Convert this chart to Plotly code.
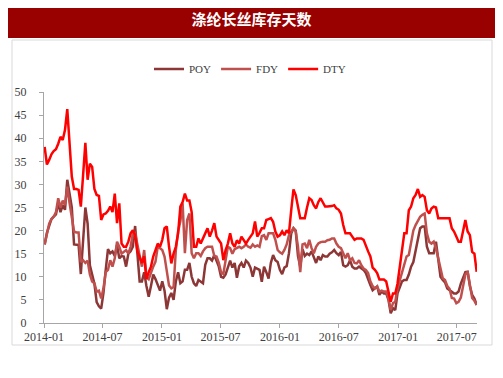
import pandas as pd
import plotly.graph_objects as go

# weekly observation dates
dates = pd.date_range("2014-01-03", periods=192, freq="7D")

poy = [17.0, 19.5, 21.0, 22.5, 23.0, 23.5, 26.0, 24.0, 25.5, 24.5,
       31.0, 28.0, 25.0, 17.0, 16.9, 16.9, 10.6, 17.0, 25.0, 21.5,
       12.5, 10.5, 8.5, 4.5, 3.6, 3.1, 6.5, 11.5, 16.0, 15.1,
       15.5, 14.5, 16.9, 14.0, 14.5, 14.4, 12.2, 15.0, 15.5, 16.5,
       21.0, 15.0, 9.0, 9.0, 11.0, 8.0, 5.7, 8.0, 10.5, 9.5,
       8.0, 7.0, 9.0, 7.0, 3.0, 5.5, 6.5, 5.0, 9.0, 11.0,
       8.6, 9.0, 11.5, 11.5, 13.0, 10.0, 8.6, 8.0, 9.3, 9.0,
       8.6, 12.6, 14.0, 14.0, 13.5, 14.7, 13.5, 12.2, 10.0, 9.8,
       10.5, 12.0, 13.5, 12.0, 13.0, 9.8, 12.3, 13.0, 12.0, 13.5,
       13.0, 12.0, 10.0, 12.0, 11.8, 11.5, 8.9, 12.2, 11.0, 9.6,
       13.0, 14.7, 13.6, 13.2, 11.5, 10.6, 12.0, 12.3, 15.1, 19.4,
       20.5, 20.0, 14.5, 12.2, 16.0, 14.5, 15.0, 14.7, 15.5, 14.0,
       13.0, 14.4, 13.6, 14.7, 14.4, 14.4, 15.0, 15.3, 15.8, 15.1,
       14.7, 15.4, 12.5, 12.2, 12.5, 13.6, 12.2, 11.8, 11.8, 12.2,
       11.8, 11.5, 10.8, 9.3, 8.2, 7.1, 7.5, 7.9, 6.1, 6.8,
       6.4, 6.4, 5.0, 2.1, 3.2, 2.8, 6.4, 7.9, 9.0, 9.3,
       9.3, 10.5, 12.2, 13.2, 15.5, 18.0, 20.5, 20.9, 20.9, 16.5,
       15.1, 15.1, 15.1, 17.6, 13.6, 10.0, 9.3, 8.8, 7.5, 7.1,
       6.8, 6.4, 6.4, 6.8, 8.5, 9.8, 11.0, 11.1, 8.0, 6.1,
       5.3, 3.9]

fdy = [17.0, 19.5, 21.5, 22.5, 23.0, 24.0, 27.0, 25.0, 26.5, 25.5,
       29.5, 26.0, 23.0, 19.8, 19.6, 19.6, 13.2, 13.6, 13.0, 13.5,
       10.5, 9.0, 8.6, 6.8, 7.0, 5.3, 7.5, 11.0, 11.5, 13.6,
       12.2, 14.0, 17.6, 16.5, 15.0, 15.5, 15.8, 15.0, 16.5, 19.4,
       19.5, 17.0, 14.4, 12.2, 15.8, 10.0, 9.5, 11.0, 12.2, 13.3,
       16.5, 16.2, 15.8, 14.4, 11.0, 8.1, 7.5, 7.8, 15.8, 19.8,
       22.0, 25.9, 15.1, 22.3, 23.7, 15.1, 14.0, 15.1, 15.1, 14.5,
       15.5, 16.2, 16.5, 16.5, 16.5, 14.5, 14.4, 13.0, 11.0, 10.6,
       13.3, 16.5, 16.2, 15.0, 16.0, 16.2, 16.5, 16.2, 16.5, 17.0,
       16.5, 16.3, 17.0, 16.5, 16.8, 16.5, 18.8, 19.0, 18.0, 19.4,
       19.4, 19.4, 18.0, 15.8, 15.3, 15.0, 15.8, 17.0, 19.0, 19.8,
       20.5, 19.8, 16.5, 11.0, 17.0, 17.2, 16.2, 18.0, 16.2, 15.1,
       16.5, 17.2, 17.5, 17.6, 17.6, 17.9, 18.0, 18.3, 18.3, 17.2,
       16.5, 16.2, 15.2, 14.0, 15.1, 13.6, 14.0, 13.0, 12.9, 13.6,
       12.5, 11.8, 11.5, 10.8, 9.0, 8.0, 7.5, 7.9, 6.8, 7.0,
       6.8, 6.8, 5.3, 2.8, 4.3, 4.6, 7.5, 9.3, 11.1, 12.5,
       14.4, 14.7, 17.2, 20.0, 21.2, 22.3, 23.0, 23.4, 23.7, 19.4,
       17.6, 17.2, 17.6, 16.2, 14.0, 12.2, 9.7, 9.3, 8.0, 7.4,
       5.4, 5.3, 4.3, 4.6, 5.5, 8.0, 10.5, 11.1, 8.2, 5.4,
       4.8, 3.9]

dty = [38.1, 34.3, 35.3, 36.5, 37.2, 37.6, 38.8, 40.3, 39.6, 41.8,
       46.3, 38.5, 31.7, 29.0, 29.0, 28.8, 25.2, 32.0, 39.0, 31.0,
       34.5, 33.8, 29.0, 27.7, 27.5, 22.3, 23.5, 23.7, 24.3, 25.2,
       24.0, 28.0, 21.6, 25.9, 17.2, 16.5, 16.5, 17.6, 19.4, 20.1,
       19.0, 15.5, 14.4, 13.0, 14.4, 9.5, 11.0, 12.2, 14.4, 15.8,
       17.2, 16.5, 18.0, 20.5, 20.9, 16.5, 12.9, 15.0, 16.5, 19.4,
       25.2, 26.2, 28.0, 26.5, 26.5, 24.0, 16.5, 16.5, 18.3, 17.2,
       18.5, 19.4, 20.5, 18.7, 20.0, 21.6, 18.7, 18.0, 17.2, 13.6,
       15.8, 17.2, 19.4, 17.2, 16.5, 17.9, 17.2, 18.7, 17.9, 17.2,
       18.0, 18.7, 19.4, 22.0, 18.7, 19.5, 20.5, 20.5, 22.3, 22.5,
       22.7, 21.9, 19.8, 18.7, 19.0, 19.8, 19.0, 20.1, 19.4, 24.4,
       28.9, 27.7, 24.8, 22.7, 22.7, 22.7, 25.0, 27.0, 26.6, 25.5,
       24.8, 26.2, 27.0, 26.2, 25.2, 25.2, 25.2, 25.3, 25.5, 24.8,
       24.5, 23.7, 21.2, 19.4, 19.4, 19.4, 18.7, 18.0, 18.3, 18.3,
       18.3, 18.0, 16.5, 15.5, 14.4, 12.0, 11.5, 10.8, 9.4, 9.4,
       9.4, 9.0, 6.4, 4.6, 6.4, 6.4, 8.5, 12.0, 16.5, 19.4,
       19.4, 24.4, 25.2, 27.0, 27.7, 29.0, 27.3, 27.7, 27.3, 24.4,
       23.7, 24.8, 25.2, 25.0, 22.7, 22.7, 22.7, 22.7, 22.7, 22.7,
       20.5, 19.8, 18.7, 17.6, 17.6, 20.1, 22.3, 19.8, 19.0, 15.4,
       15.0, 11.1]

series_names = ["POY", "FDY", "DTY"]
series_values = [poy, fdy, dty]
series_colors = ["#8c3636", "#c0504d", "#ff0000"]
title_text = "涤纶长丝库存天数"

fig = go.Figure()
for name, vals, col in zip(series_names, series_values, series_colors):
    fig.add_trace(go.Scatter(x=dates, y=vals, mode="lines", name=name,
                             line=dict(color=col, width=2.5)))

# page is offset by the default 8px body margin
OFF = 8
W, H = 503 - OFF, 378 - OFF
L, R, T, B = 44 - OFF, 26, 92 - OFF, 55
pw, ph = W - L - R, H - T - B

def px(x):
    return (x - OFF - L) / pw

def py(y):
    return (H - B - (y - OFF)) / ph

shapes = [
    dict(type="rect", xref="paper", yref="paper", x0=px(12), x1=px(492),
         y0=py(345), y1=py(40), line=dict(color="#d9d9d9", width=1),
         fillcolor="rgba(0,0,0,0)", layer="below"),
    dict(type="rect", xref="paper", yref="paper", x0=px(0), x1=px(499),
         y0=py(38), y1=py(0), line=dict(width=0), fillcolor="#990000",
         layer="below"),
]

tick_font = dict(family="Liberation Serif", size=12, color="#404040")

fig.update_layout(
    width=W, height=H,
    margin=dict(l=L, r=R, t=T, b=B, autoexpand=False),
    paper_bgcolor="white", plot_bgcolor="white",
    shapes=shapes,
    title=dict(text=title_text, x=(251.5 - OFF) / W, xref="container",
               xanchor="center", y=1 - (20 - OFF) / H, yref="container",
               yanchor="middle",
               font=dict(family="Noto Sans CJK SC", size=15, color="white",
                         weight="bold")),
    legend=dict(orientation="h", x=px(250), xanchor="center",
                y=py(69), yanchor="middle", itemwidth=30,
                font=dict(family="Liberation Serif", size=11, color="#404040"),
                bgcolor="rgba(0,0,0,0)"),
    xaxis=dict(type="date", range=["2014-01-01", "2017-09-02"],
               tick0="2014-01-01", dtick="M6", tickformat="%Y-%m",
               showgrid=False, zeroline=False, showline=True,
               linecolor="#a6a6a6", linewidth=1,
               ticks="outside", ticklen=4, tickcolor="#a6a6a6",
               tickfont=tick_font, ticklabelstandoff=-1),
    yaxis=dict(range=[0, 50], dtick=5, showgrid=False, zeroline=False,
               showline=True, linecolor="#a6a6a6", linewidth=1,
               ticks="outside", ticklen=4, tickcolor="#a6a6a6",
               tickfont=tick_font, ticklabelstandoff=10),
)

fig.write_html("out.html")
